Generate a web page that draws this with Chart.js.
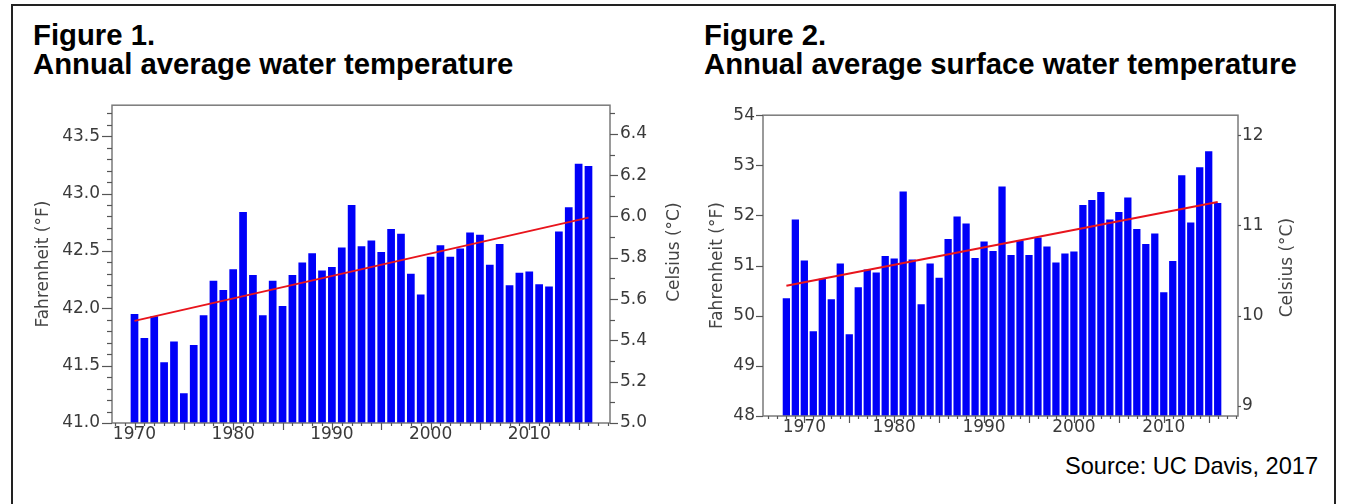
<!DOCTYPE html>
<html>
<head>
<meta charset="utf-8">
<script src="https://cdn.jsdelivr.net/npm/chart.js@4.4.1/dist/chart.umd.min.js"></script>
<style>
  body { margin: 0; background: #fff; width: 1347px; height: 504px; overflow: hidden; position: relative; font-family: "Liberation Sans", Arial, sans-serif; }
  .frame { position: absolute; left: 11px; top: 4px; width: 1325px; height: 560px; border: 2px solid #222; box-sizing: border-box; }
  .title { position: absolute; top: 20px; font-weight: bold; font-size: 29.3px; line-height: 29px; color: #000; white-space: nowrap; }
  .source { position: absolute; right: 29px; top: 455px; font-size: 23.6px; line-height: 23px; color: #000; }
  canvas { position: absolute; }
</style>
</head>
<body>
<div class="frame"></div>
<div class="title" style="left:33px">Figure 1.<br>Annual average water temperature</div>
<div class="title" style="left:704px">Figure 2.<br>Annual average surface water temperature</div>
<div class="source">Source: UC Davis, 2017</div>
<canvas id="fig1"></canvas>
<canvas id="fig2"></canvas>
<script>
// Figure 1: annual average water temperature, °F
const fig1Years = [1970, 1971, 1972, 1973, 1974, 1975, 1976, 1977, 1978, 1979,
  1980, 1981, 1982, 1983, 1984, 1985, 1986, 1987, 1988, 1989,
  1990, 1991, 1992, 1993, 1994, 1995, 1996, 1997, 1998, 1999,
  2000, 2001, 2002, 2003, 2004, 2005, 2006, 2007, 2008, 2009,
  2010, 2011, 2012, 2013, 2014, 2015, 2016]
const fig1Temps = [41.95, 41.74, 41.93, 41.53, 41.71, 41.26, 41.68, 41.94, 42.24, 42.16,
  42.34, 42.84, 42.29, 41.94, 42.24, 42.02, 42.29, 42.40, 42.48, 42.33,
  42.36, 42.53, 42.90, 42.54, 42.59, 42.49, 42.69, 42.65, 42.30, 42.12,
  42.45, 42.55, 42.45, 42.52, 42.66, 42.64, 42.38, 42.56, 42.20, 42.31,
  42.32, 42.21, 42.19, 42.67, 42.88, 43.26, 43.24]
const fig1TrendYears = [1970, 2016]
const fig1TrendTemps = [41.89, 42.79]

// Figure 2: annual average surface water temperature, °F
const fig2Years = [1968, 1969, 1970, 1971, 1972, 1973, 1974, 1975, 1976, 1977,
  1978, 1979, 1980, 1981, 1982, 1983, 1984, 1985, 1986, 1987,
  1988, 1989, 1990, 1991, 1992, 1993, 1994, 1995, 1996, 1997,
  1998, 1999, 2000, 2001, 2002, 2003, 2004, 2005, 2006, 2007,
  2008, 2009, 2010, 2011, 2012, 2013, 2014, 2015, 2016]
const fig2Temps = [50.35, 51.92, 51.10, 49.69, 50.74, 50.33, 51.04, 49.63, 50.57, 50.92,
  50.86, 51.19, 51.14, 52.48, 51.12, 50.23, 51.04, 50.76, 51.53, 51.98,
  51.84, 51.15, 51.48, 51.29, 52.58, 51.21, 51.50, 51.21, 51.56, 51.38,
  51.06, 51.24, 51.28, 52.21, 52.31, 52.47, 51.92, 52.07, 52.36, 51.73,
  51.43, 51.64, 50.47, 51.09, 52.80, 51.86, 52.96, 53.28, 52.25]
const fig2TrendYears = [1968, 2016]
const fig2TrendTemps = [50.60, 52.27]

const toC = f => (f - 32) * 5 / 9
const isStep = (v, step) => Math.abs(v / step - Math.round(v / step)) < 1e-6

const tickFont = { family: "DejaVu Sans", size: 17, lineHeight: 1.2 }
const tickColor = "#3a3a3a"
const titleFont = "17px 'DejaVu Sans'"

// plot frame, major/minor tick marks and the Celsius title (reads bottom-to-top)
const axisDecor = {
  id: "axisDecor",
  afterDraw(chart, args, opts) {
    const { ctx, chartArea: a, scales } = chart
    ctx.save()
    ctx.strokeStyle = "#7a7a7a"
    ctx.lineWidth = 1.5
    ctx.strokeRect(a.left, a.top, a.right - a.left, a.bottom - a.top)
    ctx.strokeStyle = "#555"
    ctx.lineWidth = 1.2
    for (const t of opts.marks) {
      const s = scales[t.axis]
      const n0 = Math.ceil(s.min / t.step - 1e-6)
      const n1 = Math.floor(s.max / t.step + 1e-6)
      for (let n = n0; n <= n1; n++) {
        const v = n * t.step
        const len = isStep(v, t.major) ? t.majorLen : t.minorLen
        const p = Math.round(s.getPixelForValue(v)) + 0.5
        ctx.beginPath()
        if (t.side === "left") { ctx.moveTo(a.left, p); ctx.lineTo(a.left - len, p) }
        else if (t.side === "right") { ctx.moveTo(a.right, p); ctx.lineTo(a.right + len, p) }
        else { ctx.moveTo(p, a.bottom); ctx.lineTo(p, a.bottom + len) }
        ctx.stroke()
      }
    }
    ctx.translate(a.right + opts.cTitleX, (a.top + a.bottom) / 2 + opts.cTitleDy)
    ctx.rotate(-Math.PI / 2)
    ctx.font = titleFont
    ctx.fillStyle = "#444"
    ctx.textAlign = "center"
    ctx.textBaseline = "middle"
    ctx.fillText("Celsius (°C)", 0, 0)
    ctx.restore()
  },
}

function makeChart(id, s) {
  const canvas = document.getElementById(id)
  // y-axis labels push the plot down by half a line plus their padding
  const pad = tickFont.size * tickFont.lineHeight / 2 + Math.max(s.fPad, s.cPad)
  const top = Math.round(s.plotTop - pad)
  canvas.width = s.width
  canvas.height = s.plotBottom - top + s.xHeight
  canvas.style.left = s.left + "px"
  canvas.style.top = top + "px"

  return new Chart(canvas, {
    type: "bar",
    data: {
      datasets: [
        {
          type: "line",
          data: s.trendYears.map((x, i) => ({ x, y: s.trendTemps[i] })),
          borderColor: "#e8141c",
          borderWidth: 2,
          pointRadius: 0,
          order: 0,
        },
        {
          data: s.years.map((x, i) => ({ x, y: s.temps[i] })),
          backgroundColor: "#0000f8",
          categoryPercentage: 1,
          barPercentage: s.barPct,
          order: 1,
        },
      ],
    },
    options: {
      responsive: false,
      animation: false,
      layout: { padding: 0 },
      scales: {
        x: {
          type: "linear",
          offset: false,
          min: s.xMin,
          max: s.xMax,
          grid: { display: false, drawTicks: false },
          border: { display: false },
          ticks: {
            stepSize: 10,
            includeBounds: false,
            maxRotation: 0,
            padding: 1,
            font: tickFont,
            color: tickColor,
            callback: (v) => (isStep(v, 10) ? String(Math.round(v)) : ""),
          },
          afterFit: (sc) => { sc.height = s.xHeight },
        },
        y: {
          position: "left",
          min: s.fMin,
          max: s.fMax,
          grid: { display: false, drawTicks: false },
          border: { display: false },
          ticks: {
            stepSize: s.fStep,
            includeBounds: false,
            padding: s.fPad,
            font: tickFont,
            color: tickColor,
            callback: (v) => (isStep(v, s.fStep) ? v.toFixed(s.digits) : ""),
          },
          title: {
            display: true,
            text: "Fahrenheit (°F)",
            font: { family: "DejaVu Sans", size: 17 },
            color: "#444",
            padding: { top: s.fTitlePad, bottom: 0 },
          },
          afterFit: (sc) => { sc.width = s.yWidth },
        },
        y2: {
          position: "right",
          min: toC(s.fMin),
          max: toC(s.fMax),
          grid: { display: false, drawTicks: false },
          border: { display: false },
          ticks: {
            stepSize: s.cStep,
            includeBounds: false,
            padding: s.cPad,
            font: tickFont,
            color: tickColor,
            callback: (v) => (isStep(v, s.cStep) ? v.toFixed(s.digits) : ""),
          },
          afterFit: (sc) => { sc.width = s.y2Width },
        },
      },
      plugins: {
        legend: { display: false },
        tooltip: { enabled: false },
        axisDecor: { marks: s.marks, cTitleX: s.cTitleX, cTitleDy: s.cTitleDy },
      },
    },
    plugins: [axisDecor],
  })
}

makeChart("fig1", {
  years: fig1Years, temps: fig1Temps, trendYears: fig1TrendYears, trendTemps: fig1TrendTemps,
  left: 20, width: 670, plotTop: 105, plotBottom: 423,
  barPct: 0.78, xMin: 1967.72, xMax: 2018.18, fMin: 41, fMax: 43.77,
  fStep: 0.5, cStep: 0.2, digits: 1,
  xHeight: 27, yWidth: 92, y2Width: 80,
  fPad: 12, cPad: 10, fTitlePad: 13, cTitleX: 65, cTitleDy: -12,
  marks: [
    { axis: "y", side: "left", step: 0.1, major: 0.5, majorLen: 10, minorLen: 5 },
    { axis: "y2", side: "right", step: 0.1, major: 0.2, majorLen: 8, minorLen: 5 },
    { axis: "x", side: "bottom", step: 1, major: 5, majorLen: 7, minorLen: 3 },
  ],
})

makeChart("fig2", {
  years: fig2Years, temps: fig2Temps, trendYears: fig2TrendYears, trendTemps: fig2TrendTemps,
  left: 690, width: 647, plotTop: 115, plotBottom: 416,
  barPct: 0.81, xMin: 1965.4, xMax: 2018.26, fMin: 48, fMax: 54,
  fStep: 1, cStep: 1, digits: 0,
  xHeight: 29, yWidth: 73, y2Width: 99,
  fPad: 8, cPad: 4, fTitlePad: 17, cTitleX: 50, cTitleDy: 2,
  marks: [
    { axis: "y", side: "left", step: 1, major: 1, majorLen: 7, minorLen: 7 },
    { axis: "y2", side: "right", step: 1, major: 1, majorLen: 3, minorLen: 3 },
    { axis: "x", side: "bottom", step: 1, major: 5, majorLen: 7, minorLen: 3 },
  ],
})
</script>
</body>
</html>
